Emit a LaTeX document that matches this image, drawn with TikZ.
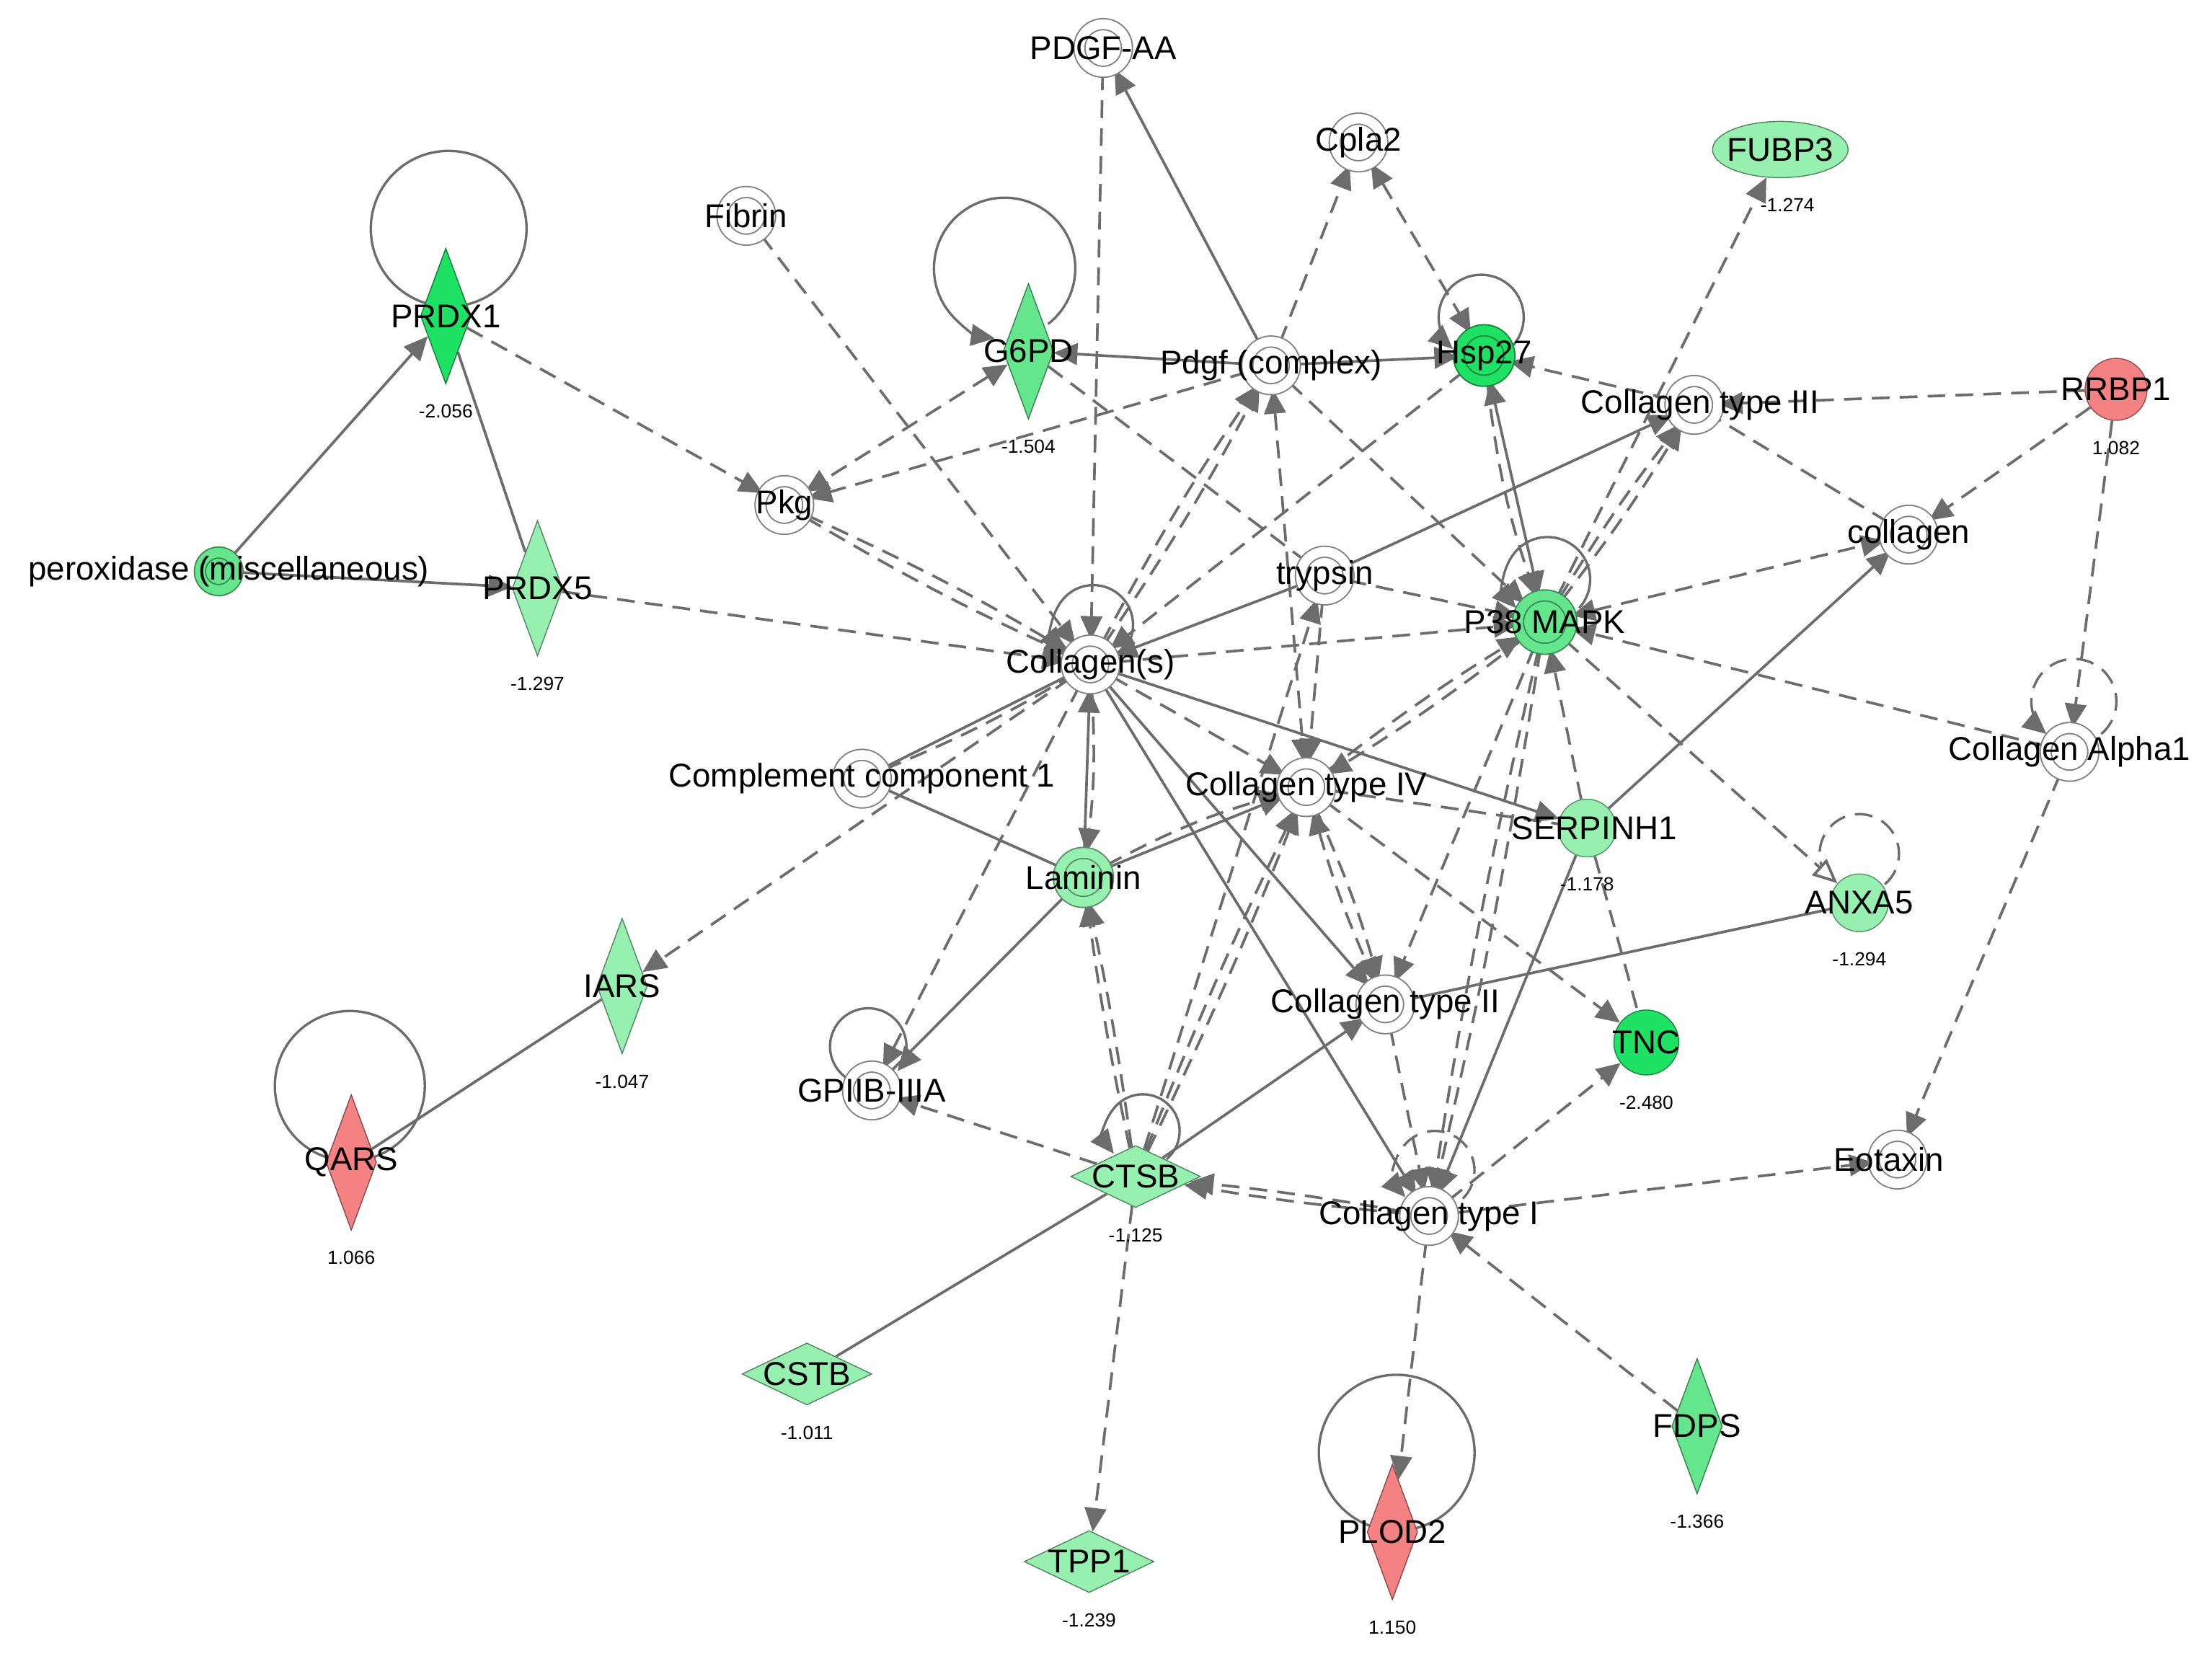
\documentclass[tikz,border=0pt]{standalone}
\usepackage{fontspec}
\setmainfont{Liberation Sans}
\usetikzlibrary{shapes.geometric, arrows.meta, backgrounds}
\definecolor{edgeGray}{RGB}{108,108,108}
\definecolor{ringGray}{RGB}{128,128,128}
\definecolor{deepGreen}{RGB}{30,226,100}
\definecolor{midGreen}{RGB}{100,230,140}
\definecolor{paleGreen}{RGB}{150,240,175}
\definecolor{salmonRed}{RGB}{245,130,130}

\begin{document}
\begin{tikzpicture}[x=0.19566mm, y=-0.19566mm,
    >={Triangle[length=3.3mm,width=3mm]},
    nm/.style={font=\fontsize{13}{15}\selectfont, inner sep=0pt},
    val/.style={font=\fontsize{7.5}{9}\selectfont, inner sep=1pt, label distance=2.4mm},
    ring/.style={circle, draw=ringGray, line width=0.55pt, double=white, double distance=3.8pt, fill=white, minimum size=0.66cm, inner sep=0pt},
    greenring/.style={ring, draw=#1!60!black, fill=#1, double=#1, minimum size=0.7cm},
    blob/.style={circle, draw=#1!60!black, line width=0.4pt, fill=#1, minimum size=0.8cm, inner sep=0pt},
    vgene/.style={diamond, draw=#1!55!black, line width=0.4pt, fill=#1, minimum width=0.7cm, minimum height=1.88cm, inner sep=0pt},
    hgene/.style={diamond, draw=#1!55!black, line width=0.4pt, fill=#1, minimum width=1.8cm, minimum height=0.86cm, inner sep=0pt},
    ln/.style={draw=edgeGray, line width=1.05pt},
    dl/.style={ln, dash pattern=on 7pt off 4pt},
    selfloop/.style={draw=edgeGray, line width=0.95pt},
    dloop/.style={selfloop, dash pattern=on 7pt off 4pt}
]
\useasboundingbox (0,0) rectangle (1568,1183);

% molecules
\node[ring, label={[nm]center:PDGF-AA}] (PDGFAA) at (782,34) {};
\node[ring, label={[nm]center:Cpla2}] (Cpla2) at (963,101) {};
\node[ellipse, draw=paleGreen!55!black, line width=0.4pt, fill=paleGreen, minimum width=1.88cm, minimum height=0.78cm, label={[nm]center:FUBP3}, label={[val,xshift=0.1cm]below:-1.274}] (FUBP3) at (1262,106) {};
\node[ring, label={[nm]center:Fibrin}] (Fibrin) at (529,153) {};
\node[vgene=deepGreen, label={[nm]center:PRDX1}, label={[val]below:-2.056}] (PRDX1) at (316,224) {};
\node[vgene=midGreen, label={[nm]center:G6PD}, label={[val]below:-1.504}] (G6PD) at (729,249) {};
\node[ring, label={[nm]center:Pdgf (complex)}] (Pdgf) at (901,259) {};
\node[greenring=deepGreen, label={[nm]center:Hsp27}] (Hsp27) at (1052,252) {};
\node[ring, label={[nm,xshift=0.08cm]center:Collagen type III}] (CollIII) at (1201,287) {};
\node[blob=salmonRed, minimum size=0.86cm, label={[nm]center:RRBP1}, label={[val]below:1.082}] (RRBP1) at (1500,276) {};
\node[ring, label={[nm]center:Pkg}] (Pkg) at (556,358) {};
\node[ring, label={[nm]center:collagen}] (collagen) at (1353,379) {};
\node[greenring=midGreen, minimum size=0.52cm, label={[nm,xshift=0.14cm]center:peroxidase (miscellaneous)}] (perox) at (155,405) {};
\node[vgene=paleGreen, label={[nm]center:PRDX5}, label={[val]below:-1.297}] (PRDX5) at (381,417) {};
\node[ring, label={[nm]center:trypsin}] (trypsin) at (939,408) {};
\node[greenring=midGreen, minimum size=0.74cm, label={[nm]center:P38 MAPK}] (P38) at (1095,441) {};
\node[ring, label={[nm]center:Collagen(s)}] (Colls) at (773,471) {};
\node[ring, label={[nm]center:Complement component 1}] (Comp1) at (611,552) {};
\node[ring, label={[nm]center:Collagen type IV}] (CollIV) at (926,558) {};
\node[blob=paleGreen, label={[nm,xshift=0.1cm]center:SERPINH1}, label={[val]below:-1.178}] (SERPINH1) at (1125,587) {};
\node[ring, label={[nm]center:Collagen Alpha1}] (CollA1) at (1467,533) {};
\node[greenring=paleGreen, minimum size=0.68cm, label={[nm]center:Laminin}] (Laminin) at (768,622) {};
\node[blob=paleGreen, label={[nm]center:ANXA5}, label={[val]below:-1.294}] (ANXA5) at (1318,640) {};
\node[vgene=paleGreen, label={[nm]center:IARS}, label={[val]below:-1.047}] (IARS) at (441,699) {};
\node[ring, label={[nm]center:Collagen type II}] (CollII) at (982,712) {};
\node[blob=deepGreen, minimum size=0.9cm, label={[nm]center:TNC}, label={[val]below:-2.480}] (TNC) at (1167,739) {};
\node[ring, label={[nm]center:GPIIB-IIIA}] (GPIIB) at (618,773) {};
\node[vgene=salmonRed, label={[nm]center:QARS}, label={[val]below:1.066}] (QARS) at (249,824) {};
\node[ring, label={[nm,xshift=-0.12cm]center:Eotaxin}] (Eotaxin) at (1345,822) {};
\node[hgene=paleGreen, label={[nm]center:CTSB}, label={[val]below:-1.125}] (CTSB) at (805,834) {};
\node[ring, label={[nm]center:Collagen type I}] (CollI) at (1013,862) {};
\node[hgene=paleGreen, label={[nm]center:CSTB}, label={[val]below:-1.011}] (CSTB) at (572,974) {};
\node[vgene=midGreen, label={[nm]center:FDPS}, label={[val]below:-1.366}] (FDPS) at (1203,1011) {};
\node[hgene=paleGreen, label={[nm]center:TPP1}, label={[val]below:-1.239}] (TPP1) at (772,1107) {};
\node[vgene=salmonRed, label={[nm]center:PLOD2}, label={[val]below:1.150}] (PLOD2) at (987,1086) {};

\begin{scope}[on background layer]
% self loops
\draw[selfloop] (PRDX1.center) ++(0.04cm,1.21cm) circle[radius=1.08cm];
\draw[selfloop] (QARS.center) ++(-0.02cm,1.06cm) circle[radius=1.04cm];
\draw[selfloop] (PLOD2.center) ++(0.06cm,1.1cm) circle[radius=1.08cm];
\draw[selfloop,->] (G6PD.center) ++(-0.33cm,1.15cm) ++(-52:0.98cm) arc[start angle=-52,end angle=262,radius=0.98cm];
\draw[selfloop,->] (Hsp27.center) ++(-0.04cm,0.53cm) ++(-45:0.59cm) arc[start angle=-45,end angle=228,radius=0.59cm];
\draw[selfloop,->] (Colls.center) ++(0.04cm,0.55cm) ++(-45:0.55cm) arc[start angle=-45,end angle=222,radius=0.55cm];
\draw[selfloop,->] (P38.center) ++(0.04cm,0.59cm) ++(-42:0.59cm) arc[start angle=-42,end angle=222,radius=0.59cm];
\draw[selfloop,->] (GPIIB.center) ++(-0.05cm,0.61cm) ++(235:0.53cm) arc[start angle=235,end angle=-40,radius=0.53cm];
\draw[selfloop,->] (CTSB.center) ++(0.1cm,0.63cm) ++(-50:0.51cm) arc[start angle=-50,end angle=218,radius=0.51cm];
\draw[dloop,->] (CollI.center) ++(0.08cm,0.63cm) ++(-45:0.55cm) arc[start angle=-45,end angle=222,radius=0.55cm];
\draw[dloop,->] (CollA1.center) ++(0.06cm,0.7cm) ++(-50:0.59cm) arc[start angle=-50,end angle=230,radius=0.59cm];
\draw[dloop] (ANXA5.center) ++(0cm,0.68cm) ++(-50:0.55cm) arc[start angle=-50,end angle=230,radius=0.55cm];

% solid links
\draw[ln,->] (perox) -- (PRDX1);
\draw[ln,->] (perox) -- (PRDX5);
\draw[ln] (PRDX1) -- (PRDX5);
\draw[ln] (QARS) -- (IARS);
\draw[ln,->] (Pdgf) -- (G6PD);
\draw[ln,->] (Pdgf) -- (Hsp27);
\draw[ln,->] (Pdgf) -- (PDGFAA);
\draw[ln,<->] (P38) -- (Hsp27);
\draw[ln,->] (trypsin) -- (CollIII);
\draw[ln,->] (trypsin) -- (Colls);
\draw[ln,->] (Colls) -- (SERPINH1);
\draw[ln,->] (Colls) -- (CollII);
\draw[ln,->] (Colls) -- (CollI);
\draw[ln,->] (Laminin) -- (Colls);
\draw[ln,->] (Laminin) -- (CollIV);
\draw[ln] (Laminin) -- (GPIIB);
\draw[ln] (Comp1) -- (Laminin);
\draw[ln] (Comp1) -- (Colls);
\draw[ln,->] (SERPINH1) -- (collagen);
\draw[ln,->] (SERPINH1) -- (CollI);
\draw[ln,->] (CTSB) -- (CollII);
\draw[ln] (CSTB) -- (CTSB);
\draw[ln] (ANXA5) -- (CollII);

% dashed links
\draw[dl,->] (PRDX1) -- (Pkg);
\draw[dl,->] (PRDX5) -- (Colls);
\draw[dl,->] (Fibrin) -- (Colls);
\draw[dl,->] (Pkg) to[bend left=3] (Colls);
\draw[dl,->] (Pkg) to[bend right=3] (Colls);
\draw[dl,<->] (G6PD) -- (Pkg);
\draw[dl,->] (Pdgf) -- (Pkg);
\draw[dl,->] (PDGFAA) -- (Colls);
\draw[dl,->] (Pdgf) -- (Cpla2);
\draw[dl,<->] (Cpla2) -- (Hsp27);
\draw[dl,->] (Pdgf) -- (P38);
\draw[dl] (G6PD) -- (trypsin);
\draw[dl,->] (Colls) to[bend left=3] (Pdgf);
\draw[dl,->] (Colls) to[bend right=3] (Pdgf);
\draw[dl,<->] (Pdgf) -- (CollIV);
\draw[dl,->] (Hsp27) -- (Colls);
\draw[dl,->] (Hsp27) to[bend right=6] (P38);
\draw[dl,->] (CollIII) -- (Hsp27);
\draw[dl,->] (RRBP1) -- (CollIII);
\draw[dl,->] (RRBP1) -- (collagen);
\draw[dl,->] (RRBP1) -- (CollA1);
\draw[dl,->] (CollA1) -- (Eotaxin);
\draw[dl,->] (CollA1) -- (P38);
\draw[dl,<->] (P38) -- (collagen);
\draw[dl] (collagen) -- (CollIII);
\draw[dl,->] (P38) to[bend left=3] (CollIII);
\draw[dl,->] (P38) to[bend right=3] (CollIII);
\draw[dl,->] (P38) -- (FUBP3);
\draw[dl,->] (trypsin) -- (P38);
\draw[dl,->] (Colls) -- (P38);
\draw[dl,->] (CTSB) -- (trypsin);
\draw[dl,->] (trypsin) -- (CollIV);
\draw[dl,->] (Colls) -- (CollIV);
\draw[dl,->] (Laminin) to[bend left=6] (CollIV);
\draw[dl,->] (Colls) to[bend left=5] (Laminin);
\draw[dl,->] (Colls) -- (GPIIB);
\draw[dl,->] (Colls) -- (IARS);
\draw[dl] (Comp1) to[bend right=4] (Colls);
\draw[dl,->] (CTSB) to[bend left=2] (Laminin);
\draw[dl,->] (CTSB) to[bend right=2] (Laminin);
\draw[dl,->] (CTSB) to[bend left=2] (CollIV);
\draw[dl,->] (CTSB) to[bend right=2] (CollIV);
\draw[dl,->] (CTSB) -- (GPIIB);
\draw[dl,->] (CTSB) -- (TPP1);
\draw[dl,->] (CollI) to[bend left=2] (CTSB);
\draw[dl,->] (CollI) to[bend right=2] (CTSB);
\draw[dl,<->] (CollIV) to[bend right=4] (CollII);
\draw[dl,->] (CollIV) to[bend left=4] (CollII);
\draw[dl,->] (CollIV) -- (TNC);
\draw[dl] (CollIV) -- (SERPINH1);
\draw[dl,->] (P38) to[bend left=3] (CollIV);
\draw[dl,->] (CollIV) to[bend left=3] (P38);
\draw[dl,->] (SERPINH1) -- (P38);
\draw[dl] (SERPINH1) -- (TNC);
\draw[dl,-{Triangle[length=3.4mm,width=3mm,fill=white]}] (P38) -- (ANXA5);
\draw[dl,->] (P38) -- (CollII);
\draw[dl,->] (P38) to[bend left=2] (CollI);
\draw[dl,->] (P38) to[bend right=2] (CollI);
\draw[dl,->] (CollII) -- (CollI);
\draw[dl,->] (CollI) -- (TNC);
\draw[dl,->] (CollI) -- (Eotaxin);
\draw[dl,->] (CollI) -- (PLOD2);
\draw[dl,->] (FDPS) -- (CollI);
\end{scope}
\end{tikzpicture}
\end{document}
